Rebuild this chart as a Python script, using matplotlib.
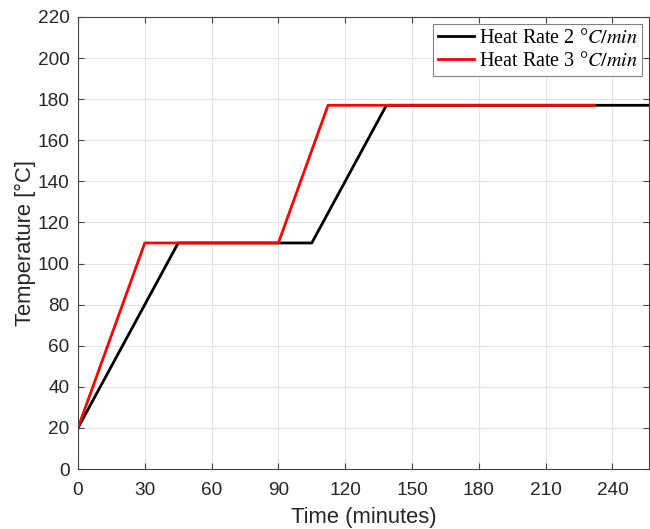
import matplotlib
matplotlib.use('Agg')
import matplotlib.pyplot as plt

# heating profiles: ramp to 110 °C, hold, ramp to 177 °C, hold
time_2 = [0, 45, 105, 138.5, 260]
temp_2 = [20, 110, 110, 177, 177]
time_3 = [0, 30, 90, 112.3, 232]
temp_3 = [20, 110, 110, 177, 177]

x_ticks = list(range(0, 241, 30))
y_ticks = list(range(0, 221, 20))

plt.rcParams['font.family'] = 'Liberation Sans'
plt.rcParams['mathtext.fontset'] = 'stix'

fig = plt.figure(figsize=(6.5, 5.29), dpi=100)
ax = fig.add_axes([0.12, 0.1134, 0.879, 0.8546])

ax.plot(time_2, temp_2, color='black', lw=2, label='Heat Rate 2 °$C/min$')
ax.plot(time_3, temp_3, color='#ff0000', lw=2, label='Heat Rate 3 °$C/min$')

ax.set_xlim(0, 256.6)
ax.set_ylim(0, 220)
ax.set_xticks(x_ticks)
ax.set_yticks(y_ticks)
ax.tick_params(direction='in', top=True, right=True, labelsize=13.7,
               colors='#444444', labelcolor='#262626', length=4, width=0.8)
ax.tick_params(axis='x', pad=9)
ax.tick_params(axis='y', pad=6)
for s in ax.spines.values():
    s.set_color('#444444')
    s.set_linewidth(0.8)
ax.grid(True, color='#e3e3e3', lw=0.8)

ax.set_xlabel('Time (minutes)', fontsize=15.8, color='#262626', labelpad=6)
ax.set_ylabel('Temperature [°C]', fontsize=15.8, color='#262626', labelpad=1)

leg = ax.legend(loc='upper right', prop={'family': 'Liberation Serif', 'size': 14.5},
                fancybox=False, framealpha=1, edgecolor='#808080',
                handlelength=1.8, handletextpad=0.2, borderpad=0.25,
                labelspacing=0.2, borderaxespad=0.35)
leg.get_frame().set_linewidth(0.8)

fig.savefig('out.png', dpi=100)
